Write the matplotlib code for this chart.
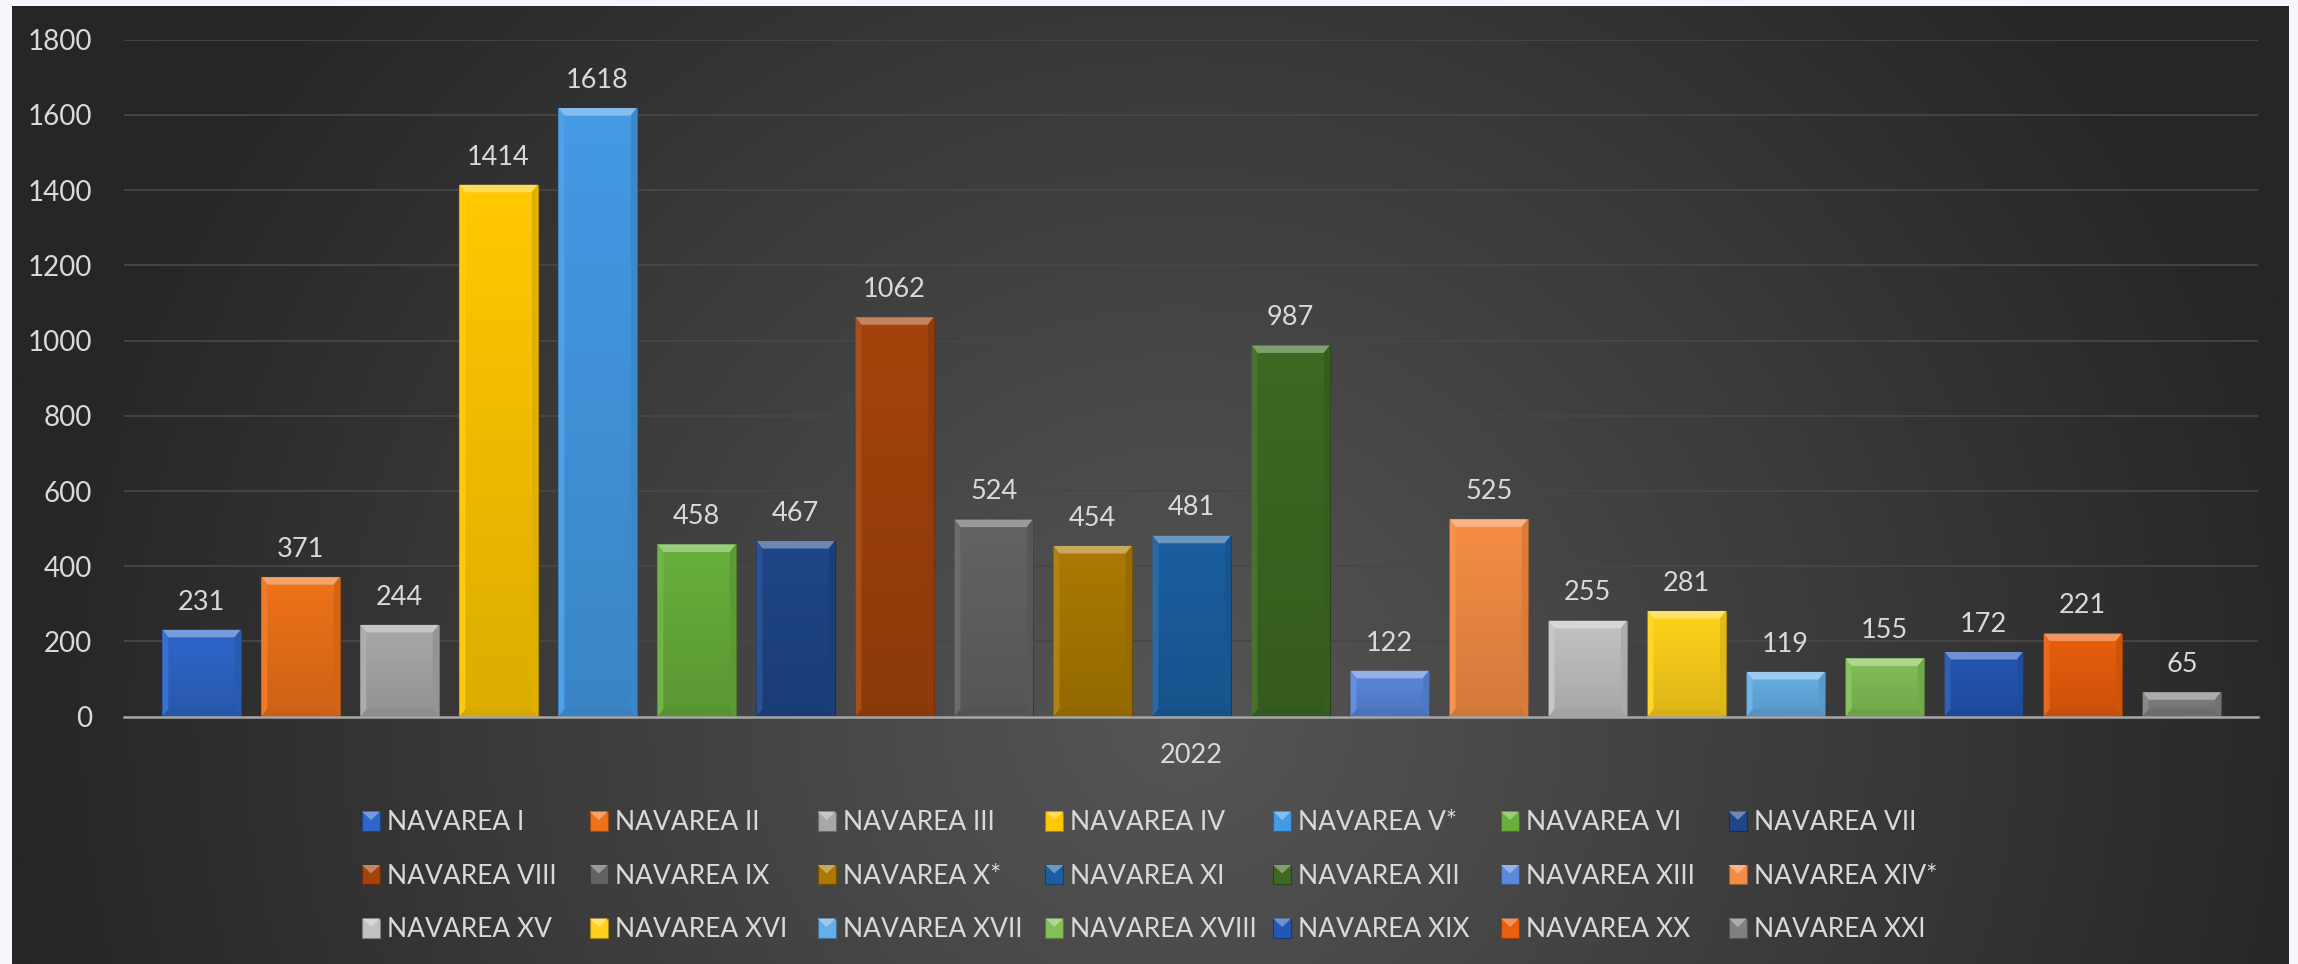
import matplotlib
matplotlib.use("Agg")
import matplotlib.pyplot as plt
import numpy as np
from matplotlib.patches import Rectangle, Polygon
from matplotlib.colors import to_rgb

# data
year = "2022"
names = ["NAVAREA I", "NAVAREA II", "NAVAREA III", "NAVAREA IV", "NAVAREA V*",
         "NAVAREA VI", "NAVAREA VII", "NAVAREA VIII", "NAVAREA IX", "NAVAREA X*",
         "NAVAREA XI", "NAVAREA XII", "NAVAREA XIII", "NAVAREA XIV*", "NAVAREA XV",
         "NAVAREA XVI", "NAVAREA XVII", "NAVAREA XVIII", "NAVAREA XIX", "NAVAREA XX",
         "NAVAREA XXI"]
values = [231, 371, 244, 1414, 1618, 458, 467, 1062, 524, 454, 481, 987,
          122, 525, 255, 281, 119, 155, 172, 221, 65]
colors = ["#2E66C9", "#EE7219", "#A8A8A8", "#FFC800", "#449AE5", "#68AF3B",
          "#1F4689", "#A3430B", "#636363", "#AA7A02", "#1B5FA0", "#3D6922",
          "#5A88DC", "#F58D45", "#C2C2C2", "#FFD21A", "#66AFE6", "#82C055",
          "#2456B4", "#EA5E0C", "#808080"]

plt.rcParams['font.family'] = ['Lato', 'DejaVu Sans']
txt = '#d9d9d9'


def mix(c, other, t):
    return tuple((1 - t) * a + t * b for a, b in zip(to_rgb(c), other))


def tint(c, t):
    return mix(c, (1, 1, 1), t)


def shade(c, t):
    return mix(c, (0, 0, 0), t)


W, H = 2298, 964
fig = plt.figure(figsize=(W / 100, H / 100), dpi=100, facecolor='#f5f7fc')

# background panel (pixel coordinates, y down)
bg = fig.add_axes([0, 0, 1, 1])
px0, py0, px1, py1 = 12, 6, 2289, H
xx, yy = np.meshgrid(np.linspace(px0, px1, 600), np.linspace(py0, py1, 300))
r = np.clip(np.sqrt(((xx - 1180) / 1150) ** 2 + ((yy - 720) / 1100) ** 2), 0, 1)
g = (0x56 - (0x56 - 0x26) * r) / 255
bg.imshow(np.dstack([g, g, g]), extent=(px0, px1, py1, py0), aspect='auto',
          interpolation='bilinear', zorder=0)
bg.set_xlim(0, W)
bg.set_ylim(H, 0)
bg.axis('off')

# legend, 7 equal columns like excel
ncol = 7
cap = 19 * 0.7165 * 100 / 72
for k, (name, c) in enumerate(zip(names, colors)):
    row, col = divmod(k, ncol)
    cx = 371 + 227.8 * col
    cy = 821 + 53.5 * row
    bg.add_patch(Rectangle((cx - 9, cy - 9.5), 18, 19, facecolor=c,
                           edgecolor=shade(c, 0.35), lw=0.8, zorder=2))
    bg.add_patch(Polygon([(cx - 9, cy - 9.5), (cx + 9, cy - 9.5), (cx, cy - 1)],
                         facecolor=tint(c, 0.35), lw=0, zorder=3))
    bg.text(cx + 16, cy + cap / 2, name, color=txt, fontsize=19,
            va='baseline', ha='left', zorder=4)

# main chart
ax = fig.add_axes([124 / W, 1 - 716.7 / H, (2258 - 124) / W, (716.7 - 39.6) / H])
ax.set_facecolor('none')
x = np.arange(len(values))
bw = 0.79
bars = ax.bar(x, values, width=bw, color=colors, zorder=2,
              edgecolor=[shade(c, 0.3) for c in colors], linewidth=0.8)

grad = np.zeros((64, 1, 4))
grad[..., 3] = np.linspace(0.0, 0.14, 64)[:, None]
bx, by = 0.06, 20
for b, v, c in zip(bars, values, colors):
    x0, x1 = b.get_x(), b.get_x() + b.get_width()
    im = ax.imshow(grad, extent=(x0, x1, 0, v), aspect='auto', origin='upper', zorder=2.5)
    im.set_clip_path(b)
    ax.add_patch(Polygon([(x0, v), (x1, v), (x1 - bx, v - by), (x0 + bx, v - by)],
                         facecolor=tint(c, 0.35), lw=0, zorder=3))
    ax.add_patch(Polygon([(x0, v), (x0 + bx, v - by), (x0 + bx, by), (x0, 0)],
                         facecolor=tint(c, 0.06), lw=0, zorder=3))
    ax.add_patch(Polygon([(x1, v), (x1 - bx, v - by), (x1 - bx, by), (x1, 0)],
                         facecolor=shade(c, 0.12), lw=0, zorder=3))
    ax.add_patch(Polygon([(x0, 0), (x1, 0), (x1 - bx, by), (x0 + bx, by)],
                         facecolor=shade(c, 0.16), lw=0, zorder=3))

ax.bar_label(bars, padding=11, color=txt, fontsize=19.5)

ax.set_xlim(-0.783, 20.77)
ax.set_ylim(0, 1800)
ax.set_yticks(range(0, 1801, 200))
ax.set_xticks([x.mean()], [year])
ax.tick_params(axis='y', length=0, pad=23, labelcolor=txt, labelsize=20)
ax.tick_params(axis='x', length=0, pad=19, labelcolor=txt, labelsize=19.5)
ax.yaxis.grid(True, color='#474747', lw=1.3)
ax.set_axisbelow(True)
for s in ['top', 'right', 'left']:
    ax.spines[s].set_visible(False)
ax.spines['bottom'].set_color('#a6a6a6')
ax.spines['bottom'].set_linewidth(1.8)
ax.spines['bottom'].set_zorder(4)

fig.savefig('out.png', dpi=100, facecolor=fig.get_facecolor())
